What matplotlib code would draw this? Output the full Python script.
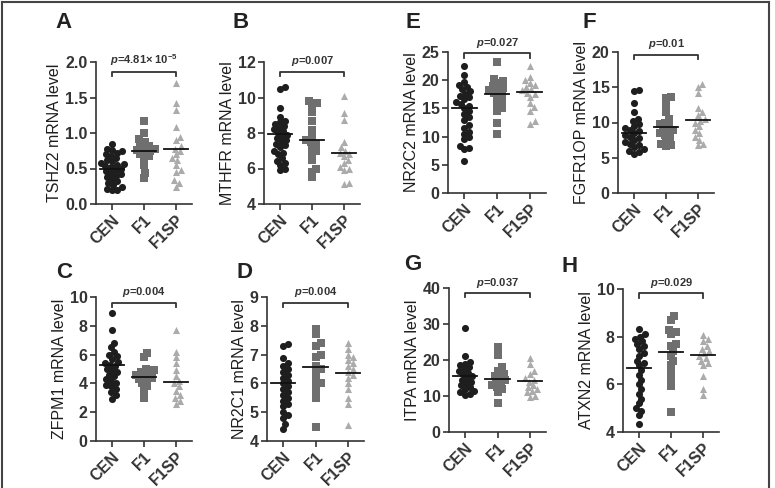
import matplotlib
matplotlib.use('Agg')
import matplotlib.pyplot as plt
import numpy as np
from matplotlib.lines import Line2D
from matplotlib.transforms import blended_transform_factory

plt.rcParams['font.family'] = ['Liberation Sans', 'DejaVu Sans']
plt.rcParams['mathtext.fontset'] = 'custom'
plt.rcParams['mathtext.rm'] = 'Liberation Sans:bold'
plt.rcParams['mathtext.it'] = 'Liberation Sans:italic:bold'
plt.rcParams['mathtext.bf'] = 'Liberation Sans:bold'

groups = ['CEN', 'F1', 'F1SP']

# ---- values ----
tshz2_cen = [0.85, 0.77, 0.76, 0.74, 0.72, 0.70, 0.68, 0.65, 0.62, 0.60, 0.58, 0.56, 0.55, 0.53,
             0.52, 0.50, 0.48, 0.46, 0.44, 0.42, 0.40, 0.38, 0.35, 0.32, 0.30, 0.27, 0.24, 0.21, 0.20, 0.20]
tshz2_f1 = [1.17, 1.00, 0.92, 0.88, 0.85, 0.82, 0.80, 0.78, 0.76, 0.75, 0.73, 0.70, 0.68, 0.65, 0.55, 0.43, 0.36]
tshz2_f1sp = [1.71, 1.42, 1.32, 1.09, 0.95, 0.90, 0.82, 0.78, 0.75, 0.70, 0.65, 0.62, 0.55, 0.48, 0.45,
              0.34, 0.30, 0.24]
tshz2_means = [0.50, 0.75, 0.78]

mthfr_cen = [10.6, 10.5, 9.4, 8.9, 8.7, 8.6, 8.5, 8.4, 8.3, 8.2, 8.1, 8.0, 7.9, 7.8, 7.7, 7.6, 7.5, 7.4,
             7.3, 7.2, 7.0, 6.9, 6.8, 6.6, 6.45, 6.3, 6.2, 6.0, 5.9]
mthfr_f1 = [9.8, 9.7, 9.55, 9.2, 8.7, 8.15, 7.8, 7.6, 7.5, 7.4, 7.2, 7.0, 6.8, 6.5, 6.0, 5.8, 5.5]
mthfr_f1sp = [10.1, 9.15, 8.75, 7.5, 7.2, 7.0, 6.9, 6.8, 6.7, 6.5, 6.3, 6.1, 6.0, 5.9, 5.2, 5.1]
mthfr_means = [7.97, 7.62, 6.88]

nr2c2_cen = [22.5, 20.9, 19.6, 19.2, 18.8, 18.4, 18.0, 17.6, 17.2, 17.0, 16.6, 16.2, 15.8, 15.5, 15.0,
             14.5, 14.0, 13.5, 13.0, 12.0, 11.5, 10.9, 10.5, 10.0, 9.5, 8.4, 8.0, 7.8, 5.6]
nr2c2_f1 = [23.2, 20.2, 19.8, 19.5, 19.0, 18.7, 18.5, 18.2, 17.8, 17.5, 17.0, 16.5, 16.0, 15.0, 14.5,
            12.4, 10.4]
nr2c2_f1sp = [22.5, 20.5, 20.0, 19.5, 19.2, 18.8, 18.5, 18.2, 17.8, 17.5, 17.0, 16.0, 15.2, 14.5,
              12.8, 12.3]
nr2c2_means = [15.1, 17.5, 17.9]

fgfr1op_cen = [14.6, 14.4, 12.7, 11.5, 10.5, 10.2, 9.8, 9.5, 9.2, 9.0, 8.8, 8.5, 8.2, 8.0, 7.8, 7.5,
               7.2, 7.0, 6.8, 6.5, 6.2, 6.0, 5.8, 5.6]
fgfr1op_f1 = [13.6, 13.5, 12.6, 11.5, 10.5, 10.0, 9.8, 9.5, 9.2, 9.0, 8.8, 8.5, 8.2, 8.0, 7.5, 7.0,
              6.8, 6.6]
fgfr1op_f1sp = [15.5, 15.0, 14.2, 12.0, 11.5, 11.0, 10.5, 10.2, 10.0, 9.5, 9.0, 8.5, 8.0, 7.5, 6.9, 6.8]
fgfr1op_means = [8.5, 9.3, 10.4]

zfpm1_cen = [8.9, 7.7, 6.8, 6.5, 6.2, 6.0, 5.9, 5.7, 5.5, 5.4, 5.3, 5.2, 5.0, 4.9, 4.8, 4.6, 4.5, 4.3,
             4.2, 4.0, 3.9, 3.8, 3.6, 3.4, 3.2, 2.95]
zfpm1_f1 = [6.1, 5.8, 5.0, 4.9, 4.8, 4.7, 4.6, 4.5, 4.4, 4.3, 4.2, 4.0, 3.8, 3.5, 3.0]
zfpm1_f1sp = [7.7, 6.2, 5.8, 5.4, 4.9, 4.5, 4.2, 4.0, 3.8, 3.5, 3.2, 3.0, 2.8, 2.56]
zfpm1_means = [5.28, 4.47, 4.12]

nr2c1_cen = [7.36, 7.3, 6.87, 6.7, 6.6, 6.5, 6.4, 6.3, 6.2, 6.1, 6.0, 5.9, 5.8, 5.7, 5.6, 5.5, 5.4,
             5.3, 5.2, 5.0, 4.9, 4.8, 4.6, 4.43]
nr2c1_f1 = [7.88, 7.7, 7.4, 7.3, 7.0, 6.9, 6.6, 6.5, 6.4, 6.2, 6.0, 5.9, 5.7, 5.5, 4.47]
nr2c1_f1sp = [7.42, 7.2, 7.0, 6.9, 6.8, 6.7, 6.6, 6.5, 6.4, 6.3, 6.2, 6.0, 5.8, 5.5, 5.3, 4.55]
nr2c1_means = [6.02, 6.58, 6.37]

itpa_cen = [28.9, 21.0, 19.5, 19.0, 18.5, 18.0, 17.5, 17.0, 16.5, 16.0, 15.5, 15.0, 14.5, 14.0, 13.5,
            13.0, 12.5, 12.0, 11.5, 11.0, 10.5, 10.3]
itpa_f1 = [23.6, 21.3, 18.0, 17.0, 16.0, 15.5, 15.0, 14.5, 14.0, 13.5, 13.0, 12.5, 12.0, 11.0, 8.05]
itpa_f1sp = [20.5, 19.0, 17.0, 16.0, 15.0, 14.5, 14.0, 13.0, 12.5, 12.0, 11.5, 11.0, 10.0, 9.8]
itpa_means = [15.5, 14.7, 14.1]

atxn2_cen = [8.32, 8.1, 8.0, 7.9, 7.8, 7.7, 7.6, 7.5, 7.3, 7.2, 7.0, 6.9, 6.8, 6.6, 6.4, 6.2, 6.0,
             5.8, 5.6, 5.4, 5.2, 5.0, 4.9, 4.7, 4.34]
atxn2_f1 = [8.88, 8.7, 8.3, 8.2, 8.1, 7.7, 7.6, 7.4, 7.2, 7.0, 6.8, 6.5, 6.2, 5.94, 4.83]
atxn2_f1sp = [8.08, 7.9, 7.8, 7.6, 7.5, 7.4, 7.3, 7.2, 7.1, 7.0, 6.9, 6.8, 6.34, 5.8, 5.57]
atxn2_means = [6.69, 7.36, 7.24]

# panel letter, gene, data, means, p text, y ticks, axes box in pixels (left, right, top, bottom),
# bracket height (axes fraction), letter position (pixels)
panels = [
    ('A', 'TSHZ2', (tshz2_cen, tshz2_f1, tshz2_f1sp), tshz2_means,
     r'$p$=4.81× 10$^{-5}$', np.arange(0, 2.01, 0.5), (96, 192, 62, 204), 0.93, (64, 23)),
    ('B', 'MTHFR', (mthfr_cen, mthfr_f1, mthfr_f1sp), mthfr_means,
     r'$p$=0.007', np.arange(4, 12.1, 2), (264, 360, 62, 204), 0.93, (241, 23)),
    ('E', 'NR2C2', (nr2c2_cen, nr2c2_f1, nr2c2_f1sp), nr2c2_means,
     r'$p$=0.027', np.arange(0, 25.1, 5), (448, 546, 52, 193), 0.99, (413, 23)),
    ('F', 'FGFR1OP', (fgfr1op_cen, fgfr1op_f1, fgfr1op_f1sp), fgfr1op_means,
     r'$p$=0.01', np.arange(0, 20.1, 5), (618, 714, 52, 193), 0.98, (589, 23)),
    ('C', 'ZFPM1', (zfpm1_cen, zfpm1_f1, zfpm1_f1sp), zfpm1_means,
     r'$p$=0.004', np.arange(0, 10.1, 2), (96, 192, 297, 441), 0.96, (64, 273)),
    ('D', 'NR2C1', (nr2c1_cen, nr2c1_f1, nr2c1_f1sp), nr2c1_means,
     r'$p$=0.004', np.arange(4, 9.1, 1), (267, 364, 297, 441), 0.96, (244, 272)),
    ('G', 'ITPA', (itpa_cen, itpa_f1, itpa_f1sp), itpa_means,
     r'$p$=0.037', np.arange(0, 40.1, 10), (449, 546, 288, 432), 0.965, (413, 265)),
    ('H', 'ATXN2', (atxn2_cen, atxn2_f1, atxn2_f1sp), atxn2_means,
     r'$p$=0.029', np.arange(4, 10.1, 2), (623, 719, 289, 432), 0.97, (570, 267)),
]

colors = ['#1e1e1e', '#6f6f6f', '#ababab']
markers = ['o', 's', '^']
W, H = 775, 488
ink = '#333333'


def swarm_x(ax, pos, values, diam_px, max_px):
    # spread points sideways where they would overlap, like a Prism scatter dot plot
    to_px = ax.transData.transform
    values = np.asarray(values, dtype=float)
    y_px = to_px(np.column_stack([np.zeros(len(values)), values]))[:, 1]
    steps = np.arange(1, max_px + 0.1, 1.0)
    cands = np.concatenate([[0], np.ravel(np.column_stack([steps, -steps]))])
    placed = []
    xs = np.zeros(len(values))
    for i in np.argsort(y_px):
        best, best_gap = 0.0, -1.0
        for dx in cands:
            gap = min((np.hypot(dx - px, y_px[i] - py) for px, py in placed), default=np.inf)
            if gap >= diam_px:
                best = dx
                break
            if gap > best_gap:
                best, best_gap = dx, gap
        placed.append((best, y_px[i]))
        xs[i] = best
    px_per_unit = to_px([[1, 0]])[0, 0] - to_px([[0, 0]])[0, 0]
    return pos + xs / px_per_unit


fig = plt.figure(figsize=(W / 100, H / 100), dpi=100)

for letter, gene, data, means, ptext, yticks, box, bracket_y, letter_xy in panels:
    left, right, top, bottom = box
    ax = fig.add_axes([left / W, 1 - bottom / H, (right - left) / W, (bottom - top) / H])
    ax.set_xlim(-0.5, 2.5)
    ax.set_ylim(yticks[0], yticks[-1])

    for i, vals in enumerate(data):
        xs = swarm_x(ax, i, vals, 5.0, 13)
        ax.scatter(xs, vals, s=26, marker=markers[i], color=colors[i], linewidths=0,
                   zorder=3, clip_on=False)
        ax.plot([i - 0.38, i + 0.38], [means[i], means[i]], color='#111111', lw=1.3, zorder=4)

    for side in ('top', 'right'):
        ax.spines[side].set_visible(False)
    for side in ('left', 'bottom'):
        ax.spines[side].set_linewidth(1.2)
        ax.spines[side].set_color(ink)

    ax.set_yticks(yticks)
    if letter == 'A':
        ax.set_yticklabels([f'{t:.1f}' for t in yticks])
    else:
        ax.set_yticklabels([f'{t:g}' for t in yticks])
    ax.set_xticks(range(3))
    ax.set_xticklabels(groups, rotation=45, ha='right', rotation_mode='anchor')
    ax.tick_params(direction='out', length=4, width=1.2, color=ink, labelcolor=ink,
                   labelsize=11.5, pad=2)
    for lab in ax.get_xticklabels() + ax.get_yticklabels():
        lab.set_fontweight('bold')
    ax.set_ylabel(f'{gene} mRNA level', fontsize=11.5, color='#1e1e1e', labelpad=2)

    # significance bracket between CEN and F1SP
    tr = blended_transform_factory(ax.transData, ax.transAxes)
    ax.plot([0, 0, 2, 2], [bracket_y - 0.03, bracket_y, bracket_y, bracket_y - 0.03],
            color=ink, lw=1.3, transform=tr, clip_on=False)
    ax.annotate(ptext, xy=(1, bracket_y), xycoords=tr, xytext=(0, 2.5),
                textcoords='offset points', ha='center', va='bottom',
                fontsize=8, color=ink, fontweight='bold')

    fig.text(letter_xy[0] / W, 1 - letter_xy[1] / H, letter, fontsize=16, fontweight='bold',
             color='#222222', ha='center', va='center')

# thin frame around the figure (bottom edge falls outside the crop)
frame = dict(color='#444444', lw=1.5, transform=fig.transFigure)
fig.add_artist(Line2D([2 / W, 769 / W], [1 - 2 / H, 1 - 2 / H], **frame))
fig.add_artist(Line2D([2 / W, 2 / W], [0, 1 - 2 / H], **frame))
fig.add_artist(Line2D([769 / W, 769 / W], [0, 1 - 2 / H], **frame))

fig.savefig('out.png', dpi=100)
